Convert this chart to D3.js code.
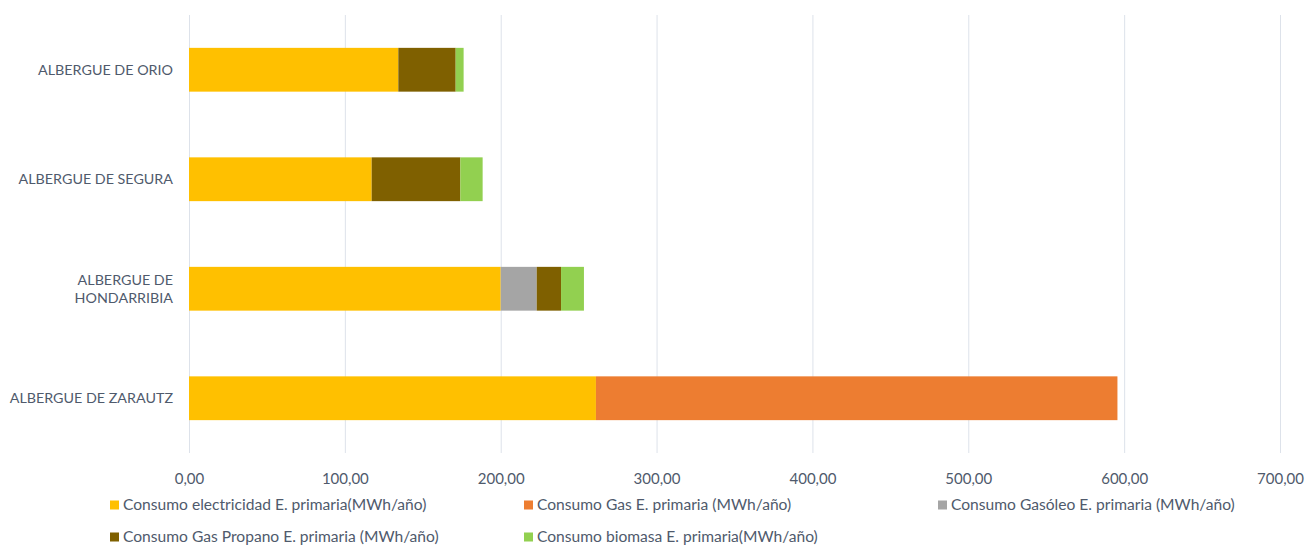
<!DOCTYPE html>
<html><head><meta charset="utf-8">
<script src="https://cdn.jsdelivr.net/npm/d3@7"></script>
<style>body{margin:0;background:#fff;} text{font-family:Lato, "Open Sans", sans-serif;}</style>
</head><body><svg id="c" width="1309" height="545"></svg>
<script>
const categories = ["ALBERGUE DE ORIO","ALBERGUE DE SEGURA","ALBERGUE DE HONDARRIBIA","ALBERGUE DE ZARAUTZ"];
const categoryLines = [["ALBERGUE DE ORIO"],["ALBERGUE DE SEGURA"],["ALBERGUE DE","HONDARRIBIA"],["ALBERGUE DE ZARAUTZ"]];
const seriesNames = ["Consumo electricidad E. primaria(MWh/año)","Consumo Gas E. primaria (MWh/año)","Consumo Gasóleo E. primaria (MWh/año)","Consumo Gas Propano E. primaria (MWh/año)","Consumo biomasa E. primaria(MWh/año)"];
const electricidad = [134.3, 117.2, 200.0, 261.1];
const gas = [0, 0, 0, 334.6];
const gasoleo = [0, 0, 23.1, 0];
const propano = [36.8, 56.9, 15.6, 0];
const biomasa = [5.1, 14.3, 14.7, 0];
const colors = ["#FFC000","#ED7D31","#A5A5A5","#7F6000","#92D050"];
const ticks = [0,100,200,300,400,500,600,700];

const series = [electricidad, gas, gasoleo, propano, biomasa];
const rows = categories.map((c,i)=>{const o={cat:c}; series.forEach((s,j)=>o["s"+j]=s[i]); return o;});
const keys = series.map((s,j)=>"s"+j);
const stacked = d3.stack().keys(keys)(rows);

const svg = d3.select("#c");
const x = d3.scaleLinear().domain([0,700]).range([189,1280]);
const y = d3.scaleBand().domain(categories).range([15,453]).paddingInner(0.6).paddingOuter(0.3);
const textCol = "#4f5a6c";

// gridlines
svg.append("g").selectAll("line").data(ticks).join("line")
  .attr("x1",d=>x(d)+0.5).attr("x2",d=>x(d)+0.5).attr("y1",15).attr("y2",453)
  .attr("stroke","#dde2ea").attr("stroke-width",1);

// bars
svg.append("g").selectAll("g").data(stacked).join("g").attr("fill",(d,i)=>colors[i])
  .selectAll("rect").data(d=>d).join("rect")
  .attr("x",d=>x(d[0])).attr("width",d=>x(d[1])-x(d[0]))
  .attr("y",d=>y(d.data.cat)).attr("height",y.bandwidth());

// x axis labels
const xa = svg.append("g").attr("transform","translate(0,453)")
  .call(d3.axisBottom(x).tickValues(ticks).tickSize(0).tickPadding(20).tickFormat(d=>d3.format(".2f")(d).replace(".",",")));
xa.select(".domain").remove();
xa.selectAll("text").attr("font-size","15px").attr("fill",textCol).style("font-family","Lato");

// y labels
categories.forEach((c,i)=>{
  const lines = categoryLines[i];
  const cy = y(c)+y.bandwidth()/2;
  const t = svg.append("text").attr("text-anchor","end").attr("font-size","14.3px").attr("fill",textCol);
  lines.forEach((l,k)=>{
    t.append("tspan").attr("x",173).attr("y",cy + (k-(lines.length-1)/2)*18 + 5).text(l);
  });
});

// legend
const legPos = [[110,505],[524,505],[938,505],[110,537],[524,537]];
legPos.forEach(([lx,ly],si)=>{
  svg.append("rect").attr("x",lx).attr("y",ly-4.5).attr("width",9).attr("height",9).attr("fill",colors[si]);
  svg.append("text").attr("x",lx+13).attr("y",ly+4.5).attr("font-size","15.6px").attr("fill",textCol).text(seriesNames[si]);
});
</script></body></html>
